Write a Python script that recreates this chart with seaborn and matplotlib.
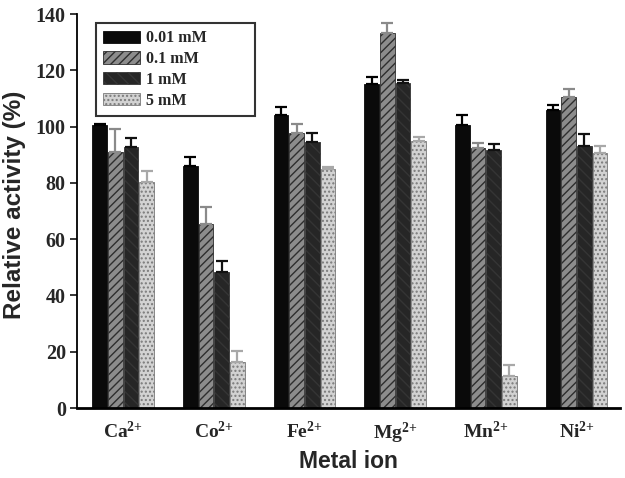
import matplotlib
matplotlib.use("Agg")
import matplotlib.pyplot as plt
import seaborn as sns
import pandas as pd
from matplotlib.patches import Patch

metals = ["Ca", "Co", "Fe", "Mg", "Mn", "Ni"]
tick_labels = [r"$\mathbf{Ca^{2{+}}}$", r"$\mathbf{Co^{2{+}}}$", r"$\mathbf{Fe^{2{+}}}$",
               r"$\mathbf{Mg^{2{+}}}$", r"$\mathbf{Mn^{2{+}}}$", r"$\mathbf{Ni^{2{+}}}$"]
concs = ["0.01 mM", "0.1 mM", "1 mM", "5 mM"]

vals_001 = [100.4, 86.1, 104.2, 115.1, 100.4, 105.9]
err_001 = [0.6, 3.2, 2.6, 2.4, 3.6, 1.6]
vals_01 = [91.0, 65.5, 97.8, 133.1, 92.5, 110.6]
err_01 = [8.2, 6.0, 3.1, 3.6, 1.8, 2.7]
vals_1 = [92.6, 48.3, 94.6, 115.4, 91.7, 93.2]
err_1 = [3.4, 4.0, 3.0, 1.1, 2.1, 4.2]
vals_5 = [80.4, 16.2, 84.9, 95.0, 11.4, 90.5]
err_5 = [3.7, 4.2, 0.8, 1.4, 3.9, 2.7]

values = [vals_001, vals_01, vals_1, vals_5]
errors = [err_001, err_01, err_1, err_5]

sns.set_style("white")
plt.rcParams["mathtext.fontset"] = "custom"
plt.rcParams["mathtext.bf"] = "Liberation Serif:bold"
plt.rcParams["mathtext.rm"] = "Liberation Serif:bold"
plt.rcParams["hatch.linewidth"] = 1.0

rows = []
for c, vs in zip(concs, values):
    for m, v in zip(metals, vs):
        rows.append({"metal": m, "conc": c, "value": v})
df = pd.DataFrame(rows)

styles = [
    dict(face="#0a0a0a", edge="#0a0a0a", hatch=None, ecol="#000000"),
    dict(face="#8c8c8c", edge="#2e2e2e", hatch="////", ecol="#8a8a8a"),
    dict(face="#262626", edge="#353535", hatch="\\\\\\", ecol="#111111"),
    dict(face="#d2d2d2", edge="#7a7a7a", hatch="....", ecol="#a8a8a8"),
]

fig = plt.figure(figsize=(6.25, 4.78), dpi=100)
ax = fig.add_axes([0.123, 0.1464, 0.869, 0.8243])

sns.barplot(data=df, x="metal", y="value", hue="conc", order=metals,
            hue_order=concs, width=0.69, gap=0.06, errorbar=None,
            legend=False, ax=ax)

for cont, st, errs in zip(ax.containers, styles, errors):
    xs, tops = [], []
    for bar in cont:
        bar.set_facecolor(st["face"])
        bar.set_edgecolor(st["edge"])
        bar.set_linewidth(0.6)
        if st["hatch"]:
            bar.set_hatch(st["hatch"])
        xs.append(bar.get_x() + bar.get_width() / 2)
        tops.append(bar.get_height())
    ax.errorbar(xs, tops, yerr=[[0] * len(errs), errs], fmt="none",
                ecolor=st["ecol"], elinewidth=1.6, capsize=4.5, capthick=1.6,
                zorder=1)

ax.set_xlim(-0.51, 5.48)
ax.set_ylim(0, 140)
ax.set_yticks(range(0, 141, 20))
ax.set_xticks(range(len(metals)))
ax.set_xticklabels(tick_labels, fontsize=14)
for lab in ax.get_yticklabels():
    lab.set_fontfamily("Liberation Serif")
    lab.set_fontweight("bold")
    lab.set_fontsize(14.5)

ax.tick_params(axis="y", direction="out", length=5, width=1.3, left=True, pad=3)
ax.tick_params(axis="x", length=0, pad=9)

for s in ["top", "right"]:
    ax.spines[s].set_visible(False)
ax.spines["left"].set_linewidth(1.3)
ax.spines["bottom"].set_linewidth(2.0)
ax.spines["left"].set_color("black")
ax.spines["bottom"].set_color("black")

ax.set_ylabel("Relative activity (%)", fontsize=17.5, fontweight="bold",
              fontfamily="Liberation Sans")
ax.yaxis.set_label_coords(-0.094, 0.515)
ax.set_xlabel("Metal ion", fontsize=16.5, fontweight="bold",
              fontfamily="Liberation Sans", labelpad=3)

handles = []
for st in styles:
    handles.append(Patch(facecolor=st["face"], edgecolor=st["edge"],
                         hatch=st["hatch"], linewidth=0.6))
leg = ax.legend(handles, concs, loc="upper left",
                bbox_to_anchor=(0.035, 0.756, 0.293, 0.221), mode="expand",
                prop={"family": "Liberation Serif", "weight": "bold", "size": 11.5},
                frameon=True, fancybox=False, handlelength=2.3, handleheight=0.8,
                handletextpad=0.4, borderpad=0.45, borderaxespad=0,
                labelspacing=0.3)
leg.get_frame().set_edgecolor("black")
leg.get_frame().set_linewidth(1.5)

fig.savefig("out.png", dpi=100)
